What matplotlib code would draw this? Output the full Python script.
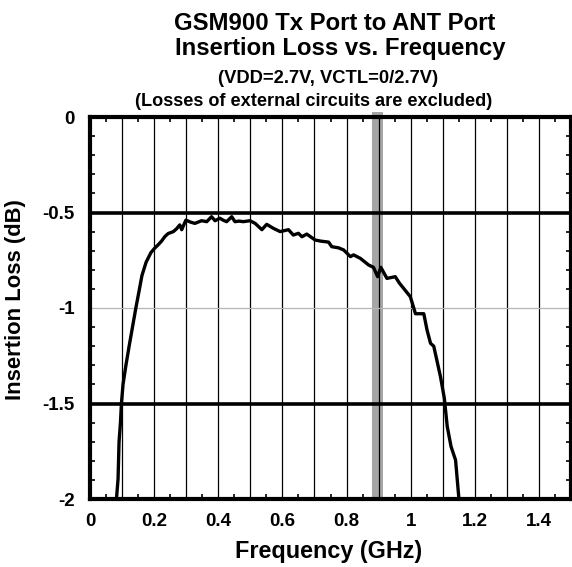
import numpy as np
import matplotlib
matplotlib.use('Agg')
import matplotlib.pyplot as plt
import matplotlib.transforms as mtransforms
from matplotlib.patches import Rectangle
from matplotlib.ticker import MultipleLocator, FuncFormatter

freq = [0.075, 0.0825, 0.0875, 0.0906, 0.095, 0.098, 0.103, 0.112, 0.122, 0.1325,
        0.143, 0.152, 0.162, 0.175, 0.19, 0.2, 0.212, 0.223, 0.234, 0.244,
        0.26, 0.27, 0.28, 0.286, 0.299, 0.313, 0.327, 0.348, 0.364, 0.379,
        0.39, 0.405, 0.415, 0.426, 0.442, 0.452, 0.465, 0.478, 0.499, 0.515,
        0.536, 0.551, 0.572, 0.593, 0.619, 0.634, 0.65, 0.661, 0.676, 0.702,
        0.72, 0.744, 0.754, 0.775, 0.791, 0.812, 0.822, 0.843, 0.869, 0.884,
        0.897, 0.907, 0.926, 0.952, 0.965, 0.978, 0.999, 1.015, 1.041, 1.051,
        1.062, 1.072, 1.093, 1.105, 1.114, 1.126, 1.14, 1.15, 1.156]
loss = [-2.15, -2.0, -1.895, -1.70, -1.60, -1.50, -1.40, -1.30, -1.20, -1.10,
        -1.00, -0.92, -0.83, -0.76, -0.71, -0.69, -0.67, -0.65, -0.625, -0.61,
        -0.60, -0.585, -0.565, -0.59, -0.54, -0.55, -0.557, -0.543, -0.548, -0.522,
        -0.543, -0.53, -0.54, -0.548, -0.522, -0.548, -0.545, -0.548, -0.543, -0.557,
        -0.59, -0.562, -0.583, -0.60, -0.59, -0.618, -0.609, -0.627, -0.613, -0.644,
        -0.65, -0.655, -0.679, -0.685, -0.696, -0.731, -0.722, -0.740, -0.775, -0.787,
        -0.836, -0.787, -0.845, -0.836, -0.87, -0.897, -0.941, -1.03, -1.03, -1.115,
        -1.185, -1.20, -1.36, -1.473, -1.62, -1.726, -1.796, -1.99, -2.1]

band = (0.88, 0.915)   # GSM900 Tx band
thick_lines = [-0.5, -1.5]
thin_lines = [-1.0]

title1 = 'GSM900 Tx Port to ANT Port'
title2 = 'Insertion Loss vs. Frequency'
sub1 = '(VDD=2.7V, VCTL=0/2.7V)'
sub2 = '(Losses of external circuits are excluded)'

plt.rcParams['font.family'] = ['Liberation Sans', 'DejaVu Sans']
plt.rcParams['font.weight'] = 'bold'
plt.rcParams['axes.unicode_minus'] = False

W, H = 572, 567
fig = plt.figure(figsize=(W/100, H/100), dpi=100)
ax = fig.add_axes([90/W, 68/H, 481/W, 382/H])

def px(x, y):
    return x/W, 1 - y/H

trans = mtransforms.blended_transform_factory(ax.transData, ax.transAxes)
ax.add_patch(Rectangle((band[0], 0), band[1]-band[0], 1.012, transform=trans,
                       facecolor='#a6a6a6', edgecolor='none', clip_on=False, zorder=1))

for yv in thick_lines:
    ax.axhline(yv, color='black', lw=2.6, zorder=1.6)
for yv in thin_lines:
    ax.axhline(yv, color='#b4b4b4', lw=0.9, zorder=1.6)

ax.plot(freq, loss, color='black', lw=2.4, zorder=3)

ax.set_xlim(0, 1.5)
ax.set_ylim(-2, 0)

ax.xaxis.set_major_locator(MultipleLocator(0.1))
ax.xaxis.set_minor_locator(MultipleLocator(0.05))
ax.xaxis.set_major_formatter(FuncFormatter(
    lambda v, p: '%g' % round(v, 1) if int(round(v*10)) % 2 == 0 else ''))
ax.yaxis.set_major_locator(MultipleLocator(0.5))
ax.yaxis.set_minor_locator(MultipleLocator(0.1))
ax.yaxis.set_major_formatter(FuncFormatter(lambda v, p: '%g' % round(v, 1)))

ax.grid(axis='x', color='black', lw=0.9)
ax.tick_params(axis='x', which='major', length=0, pad=10, labelsize=13.5)
ax.tick_params(axis='y', which='major', length=0, pad=11, labelsize=13.5)
ax.tick_params(which='minor', direction='in', length=3.5, width=1.2,
               top=True, bottom=True, left=True, right=True)

for s in ax.spines.values():
    s.set_linewidth(3)

fig.text(*px(335, 30), title1, ha='center', va='baseline', fontsize=17.2)
fig.text(*px(340, 55), title2, ha='center', va='baseline', fontsize=17.2)
fig.text(*px(328, 83), sub1, ha='center', va='baseline', fontsize=13.2)
fig.text(*px(314, 106), sub2, ha='center', va='baseline', fontsize=13.1)

fig.text(*px(329, 558), 'Frequency (GHz)', ha='center', va='baseline', fontsize=16.8)
fig.text(*px(16, 300), 'Insertion Loss (dB)', ha='center', va='center',
         rotation=90, fontsize=15.8)

fig.savefig('out.png', dpi=100)
